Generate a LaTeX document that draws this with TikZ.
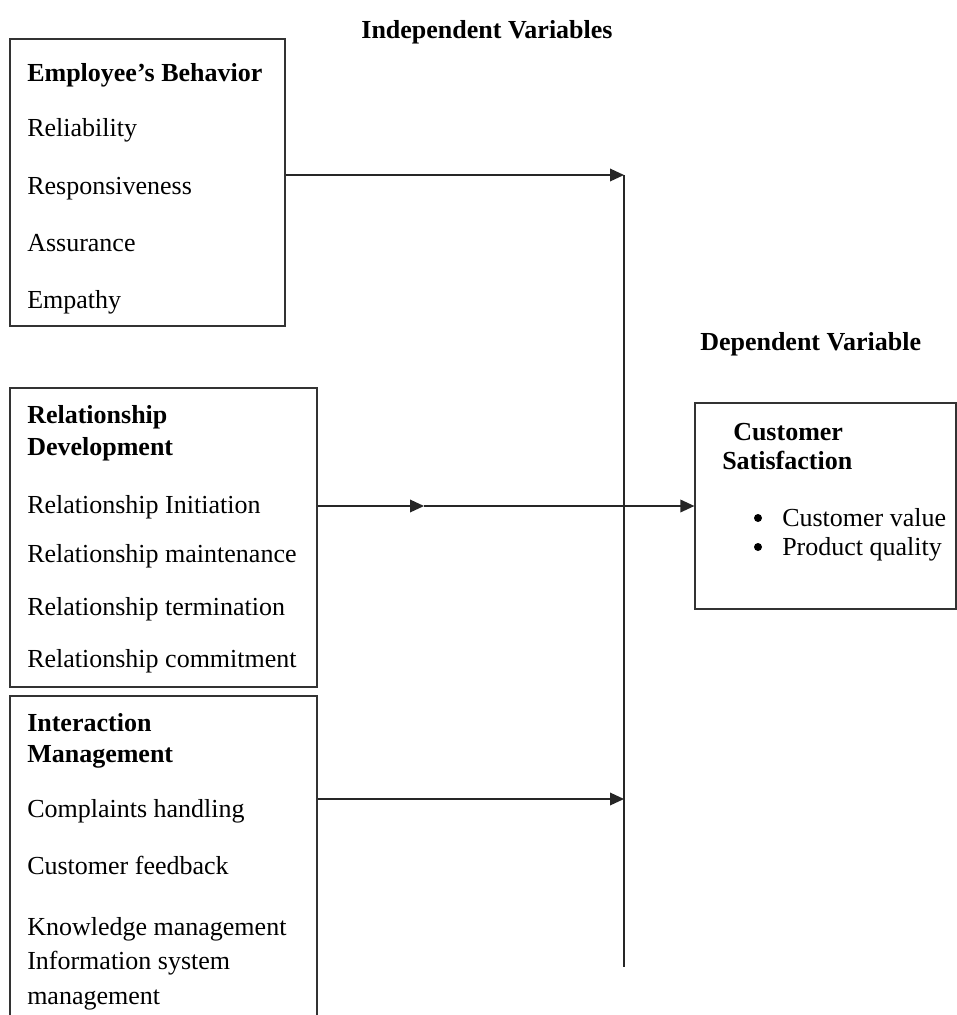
\documentclass[tikz,border=0pt]{standalone}
\usepackage{fontspec}
\setmainfont{Liberation Serif}
\usetikzlibrary{arrows.meta,fit}
\begin{document}
\begin{tikzpicture}[x=0.75pt,y=-0.75pt,
  box/.style={draw=black!80, line width=0.9pt, inner sep=0pt},
  txt/.style={anchor=base west, inner sep=0pt, font=\fontsize{19.5}{24}\selectfont},
  btxt/.style={anchor=base west, inner sep=0pt, font=\fontsize{19.5}{24}\selectfont\bfseries},
  bullet/.style={circle, fill=black, inner sep=0pt, minimum size=6pt},
  conn/.style={line width=1pt, draw=black!85},
  tip/.style={-{Triangle[length=10.5pt,width=9.5pt]}}
]
\clip (0,0) rectangle (957,1015);
% boxes
\node[box, fit={(10,39)(285,326)}] (b1) {};
\node[box, fit={(10,388)(317,687)}] (b2) {};
\node[box, fit={(10,696)(317,1040)}] (b3) {};
\node[box, fit={(695,403)(956,609)}] (b4) {};
% headings
\node[anchor=base, inner sep=0pt, font=\fontsize{19.5}{24}\selectfont\bfseries] (t1) at (487,38) {Independent Variables};
\node[btxt] (t2) at (700,350) {Dependent Variable};
% box 1
\node[btxt] (e0) at (27,81) {Employee’s Behavior};
\node[txt] (e1) at (27,136) {Reliability};
\node[txt] (e2) at (27,194) {Responsiveness};
\node[txt] (e3) at (27,251) {Assurance};
\node[txt] (e4) at (27,308) {Empathy};
% box 2
\node[btxt] (r0) at (27,423) {Relationship};
\node[btxt] (r0b) at (27,455) {Development};
\node[txt] (r1) at (27,513) {Relationship Initiation};
\node[txt] (r2) at (27,562) {Relationship maintenance};
\node[txt] (r3) at (27,615) {Relationship termination};
\node[txt] (r4) at (27,667) {Relationship commitment};
% box 3
\node[btxt] (i0) at (27,731) {Interaction};
\node[btxt] (i0b) at (27,762) {Management};
\node[txt] (i1) at (27,817) {Complaints handling};
\node[txt] (i2) at (27,874) {Customer feedback};
\node[txt] (i3) at (27,935) {Knowledge management};
\node[txt] (i4) at (27,969) {Information system};
\node[txt] (i5) at (27,1004) {management};
% box 4
\node[btxt] (c0) at (733,440) {Customer};
\node[btxt] (c0b) at (722,469) {Satisfaction};
\node[bullet] (cb1) at (758,518) {};
\node[txt] (c1) at (782,526) {Customer value};
\node[bullet] (cb2) at (758,547) {};
\node[txt] (c2) at (782,555) {Product quality};
% connectors
\coordinate (vt) at (624,175);
\coordinate (vb) at (624,967);
\draw[conn] (vt) -- (vb);
\draw[conn,tip] (b1.east |- vt) -- (vt);
\coordinate (m2) at (424,506);
\draw[conn,tip] (b2.east |- m2) -- (m2);
\draw[conn,tip] (m2) -- (b4.west);
\coordinate (a3) at (624,799);
\draw[conn,tip] (b3.east |- a3) -- (a3);
\end{tikzpicture}
\end{document}
